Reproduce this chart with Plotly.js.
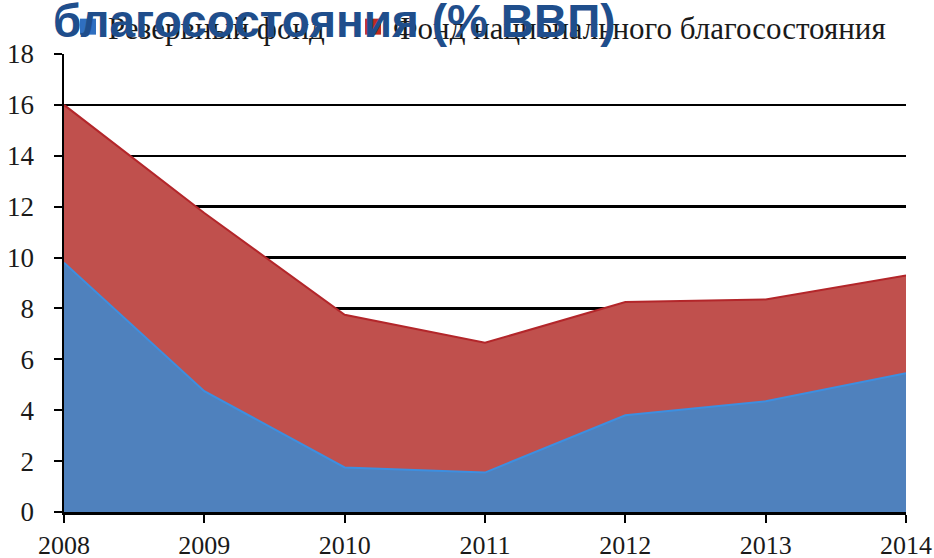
<!DOCTYPE html>
<html>
<head>
<meta charset="utf-8">
<script src="https://cdn.plot.ly/plotly-3.0.1.min.js"></script>
<style>html,body{margin:0;padding:0;background:#fff;}#chart{width:934px;height:558px;}</style>
</head>
<body>
<div id="chart"></div>
<script>
const years = [2008, 2009, 2010, 2011, 2012, 2013, 2014];
const reserveFund = [9.8, 4.75, 1.75, 1.55, 3.8, 4.35, 5.45];
const nationalWealthFund = [6.2, 7.0, 6.0, 5.1, 4.45, 4.0, 3.85];
const seriesNames = ['Резервный фонд', 'Фонд национального благосостояния'];
const titleText = 'благосостояния (% ВВП)';
const yTicks = [0, 2, 4, 6, 8, 10, 12, 14, 16, 18];

const blue = '#4F81BD', red = '#C0504D';
const serif = 'Liberation Serif, DejaVu Serif, serif';
const pad = '\u00a0\u00a0\u00a0';

const traces = [
  {x: years, y: reserveFund, type: 'scatter', mode: 'lines', stackgroup: 'one',
   fillcolor: blue, line: {color: '#3d8fe0', width: 2}, showlegend: false, name: seriesNames[0]},
  {x: years, y: nationalWealthFund, type: 'scatter', mode: 'lines', stackgroup: 'one',
   fillcolor: red, line: {color: '#b3262a', width: 2}, showlegend: false, name: seriesNames[1]},
  {x: [null], y: [null], type: 'scatter', mode: 'markers', name: seriesNames[0] + pad,
   marker: {symbol: 'square', size: 16, color: '#2f6fc0'}},
  {x: [null], y: [null], type: 'scatter', mode: 'markers', name: seriesNames[1],
   marker: {symbol: 'square', size: 16, color: '#c02a20'}}
];

const layout = {
  width: 934, height: 558,
  margin: {l: 64, r: 28, t: 51, b: 46},
  paper_bgcolor: '#fff', plot_bgcolor: '#fff',
  title: {text: '<b>' + titleText + '</b>', font: {family: 'Liberation Sans, Arial, sans-serif', size: 46, color: '#1F4E8C'},
          x: 53/934, xanchor: 'left', xref: 'container', y: 0.992, yanchor: 'top', yref: 'container'},
  showlegend: true,
  legend: {orientation: 'h', traceorder: 'normal', x: 68/934, xref: 'container', xanchor: 'left',
           y: 1, yref: 'container', yanchor: 'top',
           font: {family: serif, size: 31, color: '#1a1a1a'}, bgcolor: 'rgba(0,0,0,0)', tracegroupgap: 0},
  xaxis: {range: [2008, 2014], tickvals: years, ticktext: years.map(String),
          showgrid: false, zeroline: false, showline: true, linecolor: '#000', linewidth: 2.5,
          ticks: 'outside', ticklen: 8, tickwidth: 2, tickcolor: '#000', ticklabelstandoff: 0,
          tickfont: {family: serif, size: 26, color: '#1a1a1a'}, fixedrange: true},
  yaxis: {range: [0, 18], tickvals: yTicks, showgrid: true, gridcolor: '#000', gridwidth: 2.5,
          zeroline: false, showline: true, linecolor: '#000', linewidth: 2.5,
          ticks: 'outside', ticklen: 8, tickwidth: 2, tickcolor: '#000', ticklabelstandoff: 14,
          tickfont: {family: serif, size: 27, color: '#1a1a1a'}, fixedrange: true}
};

Plotly.newPlot('chart', traces, layout, {displayModeBar: false, staticPlot: true});
</script>
</body>
</html>
